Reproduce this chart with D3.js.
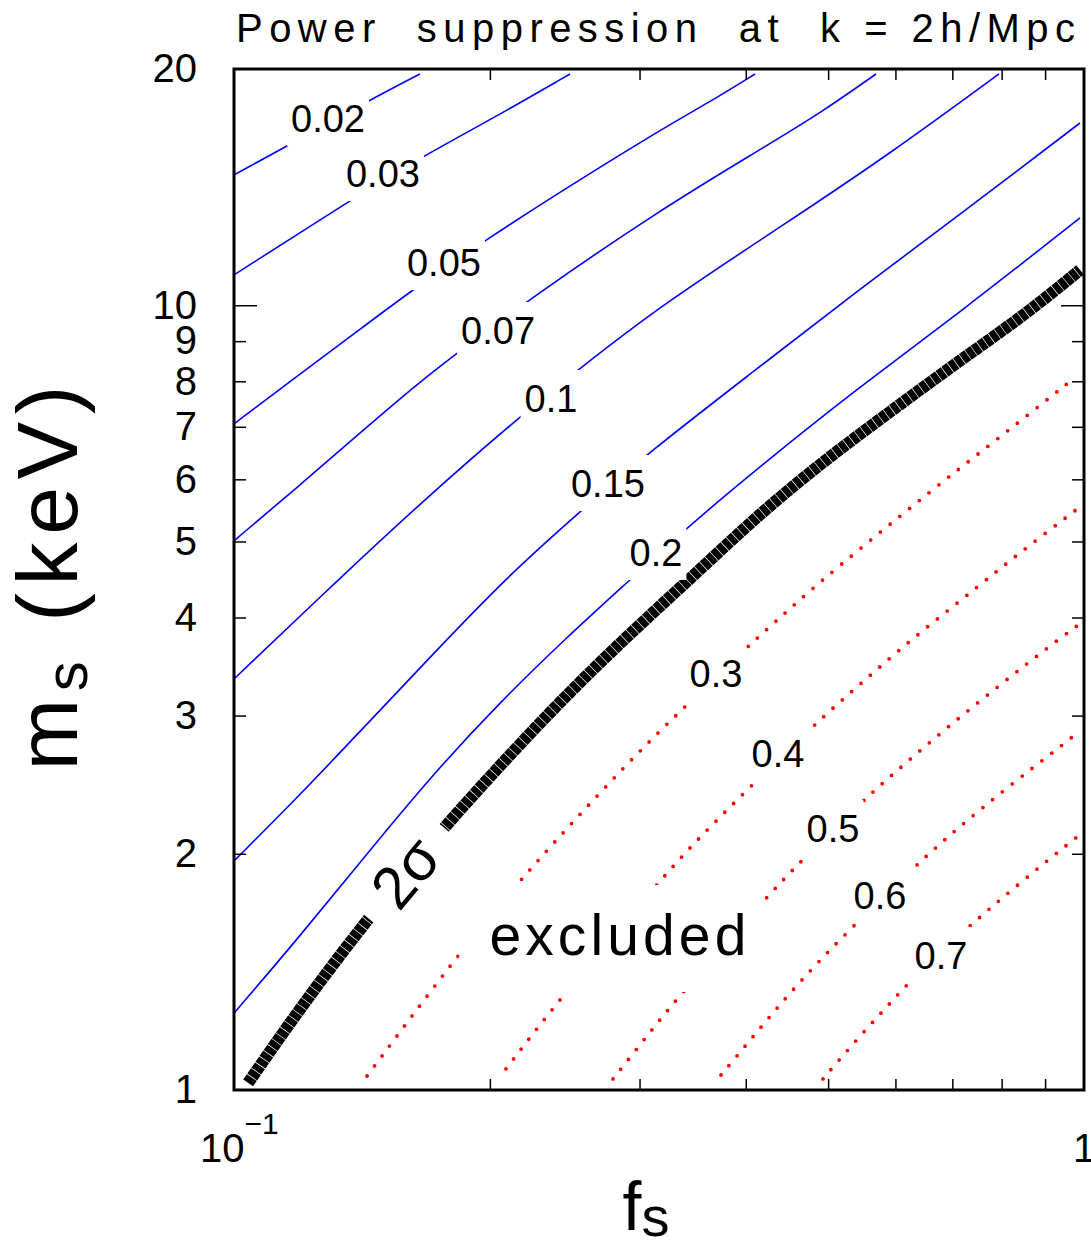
<!DOCTYPE html>
<html lang="en">
<head>
<meta charset="utf-8">
<title>Power suppression at k = 2h/Mpc</title>
<script src="https://d3js.org/d3.v7.min.js"></script>
<style>
  body { margin: 0; background: #fff; }
  text { font-family: "Liberation Sans", Arial, sans-serif; fill: #000; }
</style>
</head>
<body>
<div id="chart"></div>
<script>
// contours, points are [f_s, m_s (keV)]
var line002 = [[0.1,14.66],[0.1167,16.05],[0.1445,18.26],[0.1655,19.71]];
var line003 = [[0.1,10.93],[0.1373,13.62],[0.1678,15.54],[0.2001,17.22],[0.2485,19.71]];
var line005 = [[0.1,7.06],[0.1167,8.01],[0.1369,9.11],[0.1637,10.55],[0.1979,12.11],[0.2418,13.94],[0.3171,16.72],[0.3611,18.10],[0.4102,19.71]];
var line007 = [[0.1,5.01],[0.1196,5.90],[0.1430,6.98],[0.1637,7.91],[0.1829,8.69],[0.2229,10.19],[0.3171,13.23],[0.4136,15.73],[0.4958,17.73],[0.5692,19.71]];
var line010 = [[0.1,3.34],[0.1332,4.49],[0.1683,5.68],[0.2158,7.18],[0.2532,8.25],[0.3171,9.98],[0.4521,12.84],[0.5928,15.63],[0.7943,19.71]];
var line015 = [[0.1,1.958],[0.1196,2.377],[0.1430,2.918],[0.1715,3.594],[0.2089,4.492],[0.2526,5.404],[0.3069,6.482],[0.4136,8.318],[0.5422,10.45],[0.7108,12.99],[0.9892,17.07]];
var line020 = [[0.1,1.253],[0.1196,1.571],[0.1430,1.993],[0.1715,2.527],[0.2056,3.122],[0.2458,3.767],[0.2923,4.466],[0.3440,5.248],[0.4136,6.203],[0.5422,7.845],[0.7108,9.748],[0.9892,12.92]];
var line2sigma = [[0.1039,1.021],[0.1196,1.272],[0.1438,1.657],[0.1762,2.158],[0.2147,2.728],[0.2574,3.350],[0.3171,4.139],[0.3449,4.492],[0.4136,5.404],[0.4958,6.351],[0.5928,7.331],[0.7108,8.472],[0.8521,9.719],[0.9892,11.09]];
var line030 = [[0.1434,1.042],[0.1824,1.477],[0.2182,1.863],[0.2492,2.183],[0.2884,2.588],[0.3205,2.901],[0.3431,3.113],[0.4025,3.680],[0.4413,4.018],[0.4838,4.400],[0.6092,5.404],[0.7146,6.203],[0.8362,7.079],[0.9576,7.960]];
var line040 = [[0.2089,1.064],[0.2432,1.318],[0.3196,1.868],[0.3533,2.101],[0.4047,2.433],[0.4825,2.927],[0.5422,3.272],[0.6208,3.723],[0.7648,4.453],[0.8362,4.819],[0.9786,5.484]];
var line050 = [[0.2792,1.033],[0.3128,1.207],[0.3348,1.322],[0.4226,1.757],[0.4608,1.941],[0.5554,2.363],[0.6092,2.580],[0.6957,2.918],[0.7987,3.291],[0.9146,3.691],[0.9813,3.903]];
var line060 = [[0.3741,1.045],[0.4057,1.161],[0.4597,1.365],[0.5319,1.608],[0.6345,1.935],[0.7108,2.158],[0.8163,2.440],[0.9371,2.736],[0.9786,2.843]];
var line070 = [[0.4931,1.033],[0.5406,1.161],[0.5978,1.306],[0.6192,1.365],[0.7284,1.608],[0.7987,1.752],[0.8950,1.941],[0.9813,2.101]];

var blueLines = [line002, line003, line005, line007, line010, line015, line020];
var redLines = [line030, line040, line050, line060, line070];

// contour labels and where they sit
var labelText = ["0.02","0.03","0.05","0.07","0.1","0.15","0.2","0.3","0.4","0.5","0.6","0.7"];
var labelF = [0.129, 0.1497, 0.1766, 0.2045, 0.2360, 0.2754, 0.3136, 0.369, 0.4365, 0.5067, 0.5754, 0.6788];
var labelM = [17.32, 14.74, 11.35, 9.30, 7.617, 5.936, 4.849, 3.399, 2.688, 2.158, 1.772, 1.486];
var sigmaLabel = {text: "2σ", f: 0.1589, m: 1.896};
var excludedLabel = {text: "excluded", f: 0.2829, m: 1.486};

var xMinor = [0.2, 0.3, 0.4, 0.5, 0.6, 0.7, 0.8, 0.9];
var yMinor = [2, 3, 4, 5, 6, 7, 8, 9];
var yMajor = [10];
var yTickLabels = [1, 2, 3, 4, 5, 6, 7, 8, 9, 10, 20];

var W = 1091, H = 1245;
var pLeft = 234, pRight = 1084, pTop = 69, pBottom = 1090;

var svg = d3.select("#chart").append("svg")
    .attr("width", W)
    .attr("height", H);

var x = d3.scaleLog().domain([0.1, 1]).range([pLeft, pRight]);
var y = d3.scaleLog().domain([1, 20]).range([pBottom, pTop]);

svg.append("clipPath").attr("id", "plot")
  .append("rect")
    .attr("x", pLeft).attr("y", pTop)
    .attr("width", pRight - pLeft).attr("height", pBottom - pTop);

// traced points are a bit noisy, so smooth through them
var line = d3.line()
    .x(function(d){ return x(d[0]); })
    .y(function(d){ return y(d[1]); })
    .curve(d3.curveBasis);

var plot = svg.append("g").attr("clip-path", "url(#plot)");

plot.selectAll(".blue")
    .data(blueLines)
    .join("path")
    .attr("class", "blue")
    .attr("d", line)
    .attr("fill", "none")
    .attr("stroke", "#0000ff")
    .attr("stroke-width", 1.6);

plot.append("path")
    .datum(line2sigma)
    .attr("d", line)
    .attr("fill", "none")
    .attr("stroke", "#000")
    .attr("stroke-width", 12)
    .attr("stroke-dasharray", "6.5 0.7");

plot.selectAll(".red")
    .data(redLines)
    .join("path")
    .attr("class", "red")
    .attr("d", line)
    .attr("fill", "none")
    .attr("stroke", "#ff0000")
    .attr("stroke-width", 3.8)
    .attr("stroke-linecap", "round")
    .attr("stroke-dasharray", "0 12.5");

// contour labels with a white box to break the line
labelText.forEach(function(t, i){
  var g = plot.append("g");
  var txt = g.append("text")
      .attr("x", x(labelF[i]))
      .attr("y", y(labelM[i]))
      .attr("text-anchor", "middle")
      .attr("dy", "0.36em")
      .attr("font-size", 38)
      .text(t);
  var b = txt.node().getBBox();
  g.insert("rect", "text")
      .attr("x", b.x - 4).attr("y", y(labelM[i]) - 28)
      .attr("width", b.width + 8).attr("height", 56)
      .attr("fill", "#fff");
});

var sg = plot.append("g")
    .attr("transform", "translate(" + x(sigmaLabel.f) + "," + y(sigmaLabel.m) + ") rotate(-50)");
sg.append("rect")
    .attr("x", -59).attr("y", -16).attr("width", 118).attr("height", 32)
    .attr("fill", "#fff");
sg.append("text")
    .attr("text-anchor", "middle")
    .attr("dy", "0.36em")
    .attr("font-size", 60)
    .text(sigmaLabel.text);

var eg = plot.append("g");
var et = eg.append("text")
    .attr("x", x(excludedLabel.f))
    .attr("y", y(excludedLabel.m))
    .attr("text-anchor", "middle")
    .attr("font-size", 57)
    .attr("textLength", 257)
    .attr("lengthAdjust", "spacing")
    .text(excludedLabel.text);
var eb = et.node().getBBox();
eg.insert("rect", "text")
    .attr("x", eb.x - 30).attr("y", y(excludedLabel.m) - 70)
    .attr("width", eb.width + 45).attr("height", 107)
    .attr("fill", "#fff");

// ticks on all four sides, pointing inwards
function noDomain(g){ g.select(".domain").remove(); g.selectAll("line").attr("stroke-width", 1.5); }

svg.append("g").attr("transform", "translate(0," + pBottom + ")")
    .call(d3.axisBottom(x).tickValues(xMinor).tickSize(-11).tickFormat(""))
    .call(noDomain);
svg.append("g").attr("transform", "translate(0," + pTop + ")")
    .call(d3.axisTop(x).tickValues(xMinor).tickSize(-11).tickFormat(""))
    .call(noDomain);
svg.append("g").attr("transform", "translate(" + pLeft + ",0)")
    .call(d3.axisLeft(y).tickValues(yMinor).tickSize(-12).tickFormat(""))
    .call(noDomain);
svg.append("g").attr("transform", "translate(" + pLeft + ",0)")
    .call(d3.axisLeft(y).tickValues(yMajor).tickSize(-23).tickFormat(""))
    .call(noDomain);
svg.append("g").attr("transform", "translate(" + pRight + ",0)")
    .call(d3.axisRight(y).tickValues(yMinor).tickSize(-12).tickFormat(""))
    .call(noDomain);
svg.append("g").attr("transform", "translate(" + pRight + ",0)")
    .call(d3.axisRight(y).tickValues(yMajor).tickSize(-23).tickFormat(""))
    .call(noDomain);

// y tick labels
svg.append("g").attr("transform", "translate(" + pLeft + ",0)")
    .call(d3.axisLeft(y).tickValues(yTickLabels).tickSize(0).tickPadding(37).tickFormat(d3.format("d")))
    .call(function(g){
      g.select(".domain").remove();
      g.selectAll("text").attr("font-size", 40).attr("font-family", "Liberation Sans, Arial, sans-serif").attr("fill", "#000");
    });

// x tick labels
var xl = svg.append("text")
    .attr("x", x(0.1) - 34)
    .attr("y", 1162)
    .attr("font-size", 40);
xl.append("tspan").text("10");
xl.append("tspan").attr("dy", -28).attr("font-size", 30).text("\u22121");

svg.append("text")
    .attr("x", x(1))
    .attr("y", 1162)
    .attr("text-anchor", "middle")
    .attr("font-size", 40)
    .text("1");

// frame
svg.append("rect")
    .attr("x", pLeft).attr("y", pTop)
    .attr("width", pRight - pLeft).attr("height", pBottom - pTop)
    .attr("fill", "none")
    .attr("stroke", "#000")
    .attr("stroke-width", 3);

// title
svg.append("text")
    .attr("x", 236)
    .attr("y", 42)
    .attr("font-size", 40)
    .attr("textLength", 839)
    .attr("lengthAdjust", "spacing")
    .style("white-space", "pre")
    .text("Power  suppression  at  k = 2h/Mpc");

// axis titles
var xt = svg.append("text")
    .attr("x", 646)
    .attr("y", 1230)
    .attr("text-anchor", "middle")
    .attr("font-size", 68);
xt.append("tspan").text("f");
xt.append("tspan").attr("dy", 6).attr("font-size", 56).text("s");

var yt = svg.append("text")
    .attr("transform", "translate(77,578) rotate(-90)")
    .attr("text-anchor", "middle")
    .attr("font-size", 86)
    .attr("textLength", 385)
    .attr("lengthAdjust", "spacing")
    .style("white-space", "pre");
yt.append("tspan").text("m");
yt.append("tspan").attr("dy", 10).attr("font-size", 60).text("s");
yt.append("tspan").attr("dy", -10).text(" (keV)");
</script>
</body>
</html>
